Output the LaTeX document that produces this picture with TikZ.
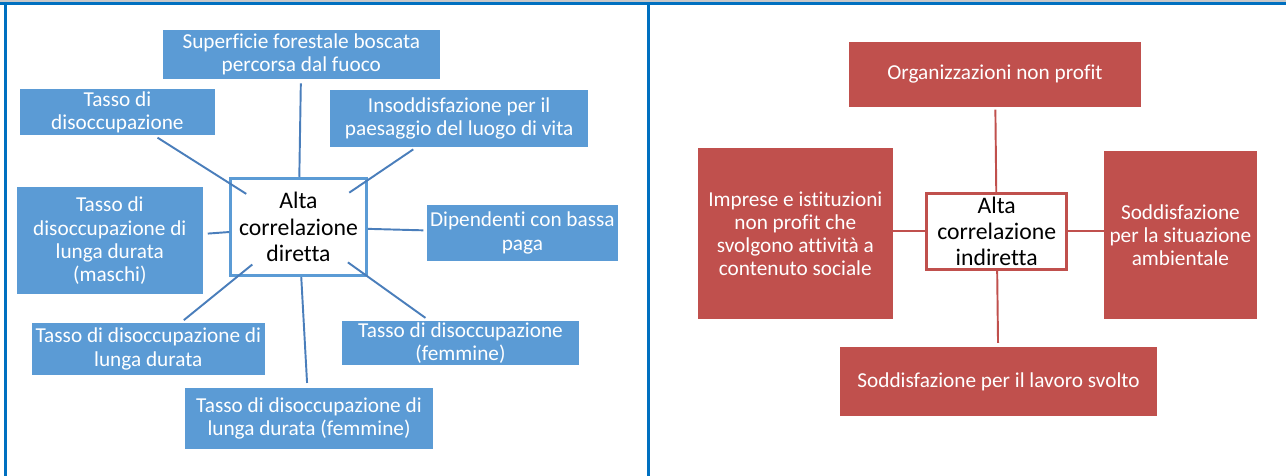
\documentclass[tikz,border=0pt]{standalone}
\usepackage{fontspec}
\setmainfont{Carlito}[Ligatures={NoCommon}]
\usetikzlibrary{shapes.geometric}
\definecolor{ICBlue}{HTML}{5B9BD5}
\definecolor{ICBlueLine}{HTML}{4A7EBB}
\definecolor{ICRed}{HTML}{C0504D}
\definecolor{ICFrame}{HTML}{0070C0}
\definecolor{ICGray}{HTML}{C8C8C8}

\begin{document}
\begin{tikzpicture}[x=0.02cm,y=-0.02cm,
  bluebox/.style={fill=ICBlue,text=white,align=center,inner sep=1pt,font=\fontsize{12.1}{13.2}\selectfont},
  redbox/.style={fill=ICRed,text=white,align=center,inner sep=1pt,font=\fontsize{12.1}{13.2}\selectfont},
  centerbox/.style={fill=white,line width=1.7pt,align=center,inner sep=1pt,font=\fontsize{13.5}{15}\selectfont},
  hub/.style={ellipse,inner sep=0pt,outer sep=0pt},
  blueline/.style={ICBlueLine,line width=1.1pt},
  redline/.style={ICRed,line width=1.1pt}]
\path[use as bounding box] (0,0) rectangle (1286,476);
\fill[ICGray] (0,0) rectangle (1286,1.7);
\fill[ICFrame] (0,1.7) rectangle (1286,5);
\fill[ICFrame] (4,1.7) rectangle (7,476);
\fill[ICFrame] (647,1.7) rectangle (650,476);

\node[bluebox,minimum width=5.55cm,minimum height=0.97cm] (sup) at (301.3,54.3) {Superficie forestale boscata\\percorsa dal fuoco};
\node[bluebox,minimum width=3.90cm,minimum height=0.91cm] (dis) at (117.4,112.2) {Tasso di\\disoccupazione};
\node[bluebox,minimum width=5.15cm,minimum height=1.13cm] (ins) at (459.2,118.3) {Insoddisfazione per il\\paesaggio del luogo di vita};
\node[bluebox,minimum width=3.73cm,minimum height=2.13cm] (mas) at (109.8,240.7) {Tasso di\\disoccupazione di\\lunga durata\\(maschi)};
\node[bluebox,minimum width=3.81cm,minimum height=1.12cm] (dip) at (522.4,233) {Dipendenti con bassa\\paga};
\node[bluebox,minimum width=4.65cm,minimum height=1.03cm] (lun) at (148.3,349) {Tasso di disoccupazione di\\lunga durata};
\node[bluebox,minimum width=4.74cm,minimum height=0.84cm] (fem) at (460.5,343) {Tasso di disoccupazione\\(femmine)};
\node[bluebox,minimum width=4.96cm,minimum height=1.22cm] (luf) at (309,418.2) {Tasso di disoccupazione di\\lunga durata (femmine)};
\node[centerbox,draw=ICBlue,minimum width=2.72cm,minimum height=1.95cm] (dir) at (298.5,227) {Alta\\correlazione\\diretta};
\node[hub,minimum width=2.78cm,minimum height=2.01cm] (dirhub) at (dir) {};

\draw[blueline,shorten <=2.5pt] (sup) -- (dirhub);
\draw[blueline,shorten <=2.5pt] (dis) -- (dirhub);
\draw[blueline,shorten <=2.5pt] (ins) -- (dirhub);
\draw[blueline,shorten <=2.5pt] (mas) -- (dirhub);
\draw[blueline,shorten >=2pt] (dirhub) -- (dip);
\draw[blueline,shorten >=2.5pt] (dirhub) -- (lun);
\draw[blueline,shorten >=2.5pt] (dirhub) -- (fem);
\draw[blueline,shorten >=2.5pt] (dirhub) -- (luf);

\node[redbox,minimum width=5.83cm,minimum height=1.30cm] (org) at (995,74.2) {Organizzazioni non profit};
\node[redbox,minimum width=3.89cm,minimum height=3.42cm] (imp) at (795.3,233.8) {Imprese e istituzioni\\non profit che\\svolgono attività a\\contenuto sociale};
\node[redbox,minimum width=3.06cm,minimum height=3.37cm] (sit) at (1180.4,235) {Soddisfazione\\per la situazione\\ambientale};
\node[redbox,minimum width=6.33cm,minimum height=1.39cm] (lav) at (998.5,381.5) {Soddisfazione per il lavoro svolto};
\node[centerbox,draw=ICRed,minimum width=2.81cm,minimum height=1.51cm] (ind) at (996.7,231.3) {Alta\\correlazione\\indiretta};

\draw[redline,shorten <=1.5pt] (org) -- (ind);
\draw[redline,shorten >=2pt] (ind) -- (lav);
\draw[redline] (ind.west) -- (ind.west -| imp.east);
\draw[redline] (ind.east) -- (ind.east -| sit.west);
\end{tikzpicture}
\end{document}
